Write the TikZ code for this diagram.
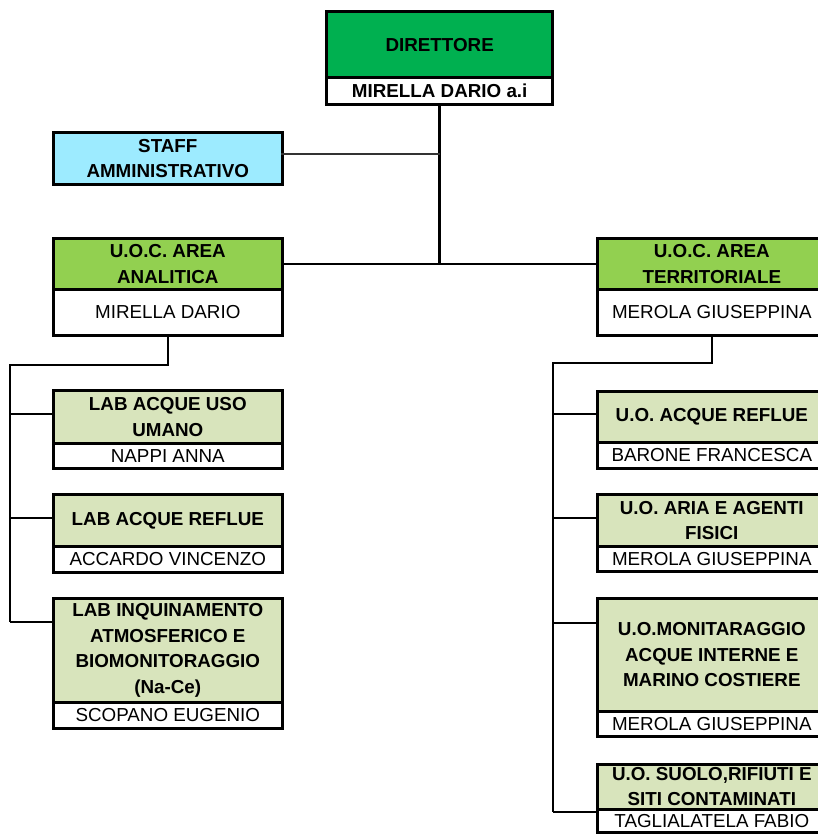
\documentclass[tikz,border=0pt]{standalone}
\usepackage{fontspec}
\setmainfont{Liberation Sans}
\definecolor{dirgreen}{HTML}{00B050}
\definecolor{uocgreen}{HTML}{92D050}
\definecolor{labgreen}{HTML}{D8E4BC}
\definecolor{staffcyan}{HTML}{9DEBFF}
\tikzset{
  hdrbox/.style={draw=black, line width=2.6pt, inner sep=0pt, anchor=north west, align=center,
    minimum width=229pt, font=\bfseries\fontsize{18.8}{25.5}\selectfont},
  namebox/.style={draw=black, line width=2.6pt, inner sep=0pt, anchor=north west, fill=white,
    minimum width=229pt, font=\fontsize{18.8}{21}\selectfont},
  conn/.style={line width=2.6pt, black},
  thinconn/.style={line width=1.7pt, black!80},
}
\begin{document}
\begin{tikzpicture}[x=1pt, y=-1pt]
\useasboundingbox (0,0) rectangle (818,835);
\clip (0,0) rectangle (818,835);
\fill[white] (0,0) rectangle (818,835);

% Director
\node[hdrbox, fill=dirgreen, minimum width=226pt, minimum height=66pt, line width=3.4pt] (dirH) at (325,10) {DIRETTORE};
\node[namebox, minimum width=226pt, minimum height=27pt, line width=3.4pt, font=\bfseries\fontsize{18.8}{21}\selectfont] (dirN) at (325,76) {MIRELLA DARIO a.i};

% Staff
\node[hdrbox, fill=staffcyan, minimum height=52pt] (staff) at (52,131) {STAFF\\AMMINISTRATIVO};

% UOC areas
\node[hdrbox, fill=uocgreen, minimum height=51pt] (anaH) at (52,237) {U.O.C. AREA\\ANALITICA};
\node[namebox, minimum height=46pt] (anaN) at (52,288) {MIRELLA DARIO};
\node[hdrbox, fill=uocgreen, minimum height=51pt] (terH) at (596,237) {U.O.C. AREA\\TERRITORIALE};
\node[namebox, minimum height=46pt] (terN) at (596,288) {MEROLA GIUSEPPINA};

% Left labs
\node[hdrbox, fill=labgreen, minimum height=53pt] (l1H) at (52,389) {LAB ACQUE USO\\UMANO};
\node[namebox, minimum height=25pt] (l1N) at (52,442) {NAPPI ANNA};
\node[hdrbox, fill=labgreen, minimum height=52pt] (l2H) at (52,493) {LAB ACQUE REFLUE};
\node[namebox, minimum height=26pt] (l2N) at (52,545) {ACCARDO VINCENZO};
\node[hdrbox, fill=labgreen, minimum height=104pt] (l3H) at (52,597) {LAB INQUINAMENTO\\ATMOSFERICO E\\BIOMONITORAGGIO\\(Na-Ce)};
\node[namebox, minimum height=26pt] (l3N) at (52,701) {SCOPANO EUGENIO};

% Right units
\node[hdrbox, fill=labgreen, minimum height=51pt] (r1H) at (596,390) {U.O. ACQUE REFLUE};
\node[namebox, minimum height=26pt] (r1N) at (596,441) {BARONE FRANCESCA};
\node[hdrbox, fill=labgreen, minimum height=52pt] (r2H) at (596,493) {U.O. ARIA E AGENTI\\FISICI};
\node[namebox, minimum height=25pt] (r2N) at (596,545) {MEROLA GIUSEPPINA};
\node[hdrbox, fill=labgreen, minimum height=113pt] (r3H) at (596,597) {U.O.MONITARAGGIO\\ACQUE INTERNE E\\MARINO COSTIERE};
\node[namebox, minimum height=25pt] (r3N) at (596,710) {MEROLA GIUSEPPINA};
\node[hdrbox, fill=labgreen, minimum height=45pt, font=\bfseries\fontsize{18.8}{25}\selectfont] (r4H) at (596,763) {U.O. SUOLO,RIFIUTI E\\SITI CONTAMINATI};
\node[namebox, minimum height=23pt] (r4N) at (596,808) {TAGLIALATELA FABIO};

% Connector coordinates
\coordinate (jmain) at (dirN.south |- anaH.east);
\coordinate (jstaff) at (440,154);
\coordinate (sstaff) at (281,154);
\coordinate (aDown) at (anaN.south |- 0,365);
\coordinate (aLeft) at (10,365);
\coordinate (aB1) at (10,414);
\coordinate (aB2) at (10,518);
\coordinate (aB3) at (10,622);
\coordinate (tDown) at (terN.south |- 0,363);
\coordinate (tLeft) at (553,363);
\coordinate (tB1) at (553,414);
\coordinate (tB2) at (553,518);
\coordinate (tB3) at (553,623);
\coordinate (tB4) at (553,812);

% Connectors
\draw[conn] (dirN.south) -- (jmain);
\draw[thinconn] (sstaff) -- (jstaff);
\draw[conn] (anaH.east) -- (terH.west);

\draw[conn] (anaN.south) -- (aDown) -- (aLeft) -- (aB3);
\draw[conn] (aB1) -- (aB1 -| l1H.west);
\draw[conn] (aB2) -- (aB2 -| l2H.west);
\draw[conn] (aB3) -- (aB3 -| l3H.west);

\draw[conn] (terN.south) -- (tDown) -- (tLeft) -- (tB4);
\draw[conn] (tB1) -- (tB1 -| r1H.west);
\draw[conn] (tB2) -- (tB2 -| r2H.west);
\draw[conn] (tB3) -- (tB3 -| r3H.west);
\draw[conn] (tB4) -- (tB4 -| r4H.west);
\end{tikzpicture}
\end{document}
